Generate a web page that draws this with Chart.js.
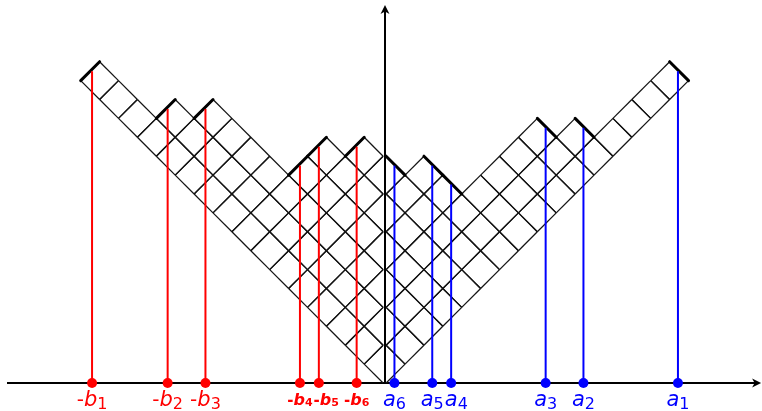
<!DOCTYPE html>
<html>
<head>
<meta charset="utf-8">
<script src="https://cdn.jsdelivr.net/npm/chart.js@4"></script>
<style>
  body { margin: 0; background: #fff; }
  #wrap { width: 762px; height: 411px; }
</style>
</head>
<body>
<div id="wrap"><canvas id="maya"></canvas></div>
<script>
// Frobenius coordinates (a1..a6 | b1..b6)
const aVals = [15, 10, 8, 3, 2, 0]
const bVals = [15, 11, 9, 4, 3, 1]
const aSubs = ['1', '2', '3', '4', '5', '6']
const bSubs = ['1', '2', '3', '4', '5', '6']
const bSmall = [false, false, false, true, true, true]

// axis extent in data units
const xAxisFrom = -20.0
const xAxisTo = 19.9
const yAxisTo = 20.0

const unit = 18.9
const gapLeft = 0.1
const gapRight = 0.06

// build the Russian-convention diagram from the Frobenius data
let segs = {}
let lattice = []
function addEdge (x1, y1, x2, y2) {
    let key = [x1, y1, x2, y2].join(',')
    if (segs[key]) return
    segs[key] = true
    lattice.push([{x: x1, y: y1}, {x: x2, y: y2}])
}
function cellEdges (i, j, half) {
    let cx = j - i, cy = i + j - 1
    let s = half === 'L' ? -gapLeft : gapRight
    let bot = [cx + s, cy - 1], rgt = [cx + 1 + s, cy], top = [cx + s, cy + 1], lft = [cx - 1 + s, cy]
    if (half === 'R') {
        addEdge(bot[0], bot[1], rgt[0], rgt[1])
        addEdge(rgt[0], rgt[1], top[0], top[1])
        if (j > i) {
            addEdge(top[0], top[1], lft[0], lft[1])
            addEdge(lft[0], lft[1], bot[0], bot[1])
        }
    } else {
        addEdge(top[0], top[1], lft[0], lft[1])
        addEdge(lft[0], lft[1], bot[0], bot[1])
        if (i > j) {
            addEdge(bot[0], bot[1], rgt[0], rgt[1])
            addEdge(rgt[0], rgt[1], top[0], top[1])
        }
    }
}
aVals.forEach(function (a, k) {
    let i = k + 1
    for (let j = i; j <= a + i; j++) cellEdges(i, j, 'R')
})
bVals.forEach(function (b, k) {
    let j = k + 1
    for (let i = j; i <= b + j; i++) cellEdges(i, j, 'L')
})

// thick boundary edges at the end of each hook
let thick = []
aVals.forEach(function (a, k) {
    let i = k + 1
    thick.push([{x: a + gapRight, y: a + 2 * i}, {x: a + 1 + gapRight, y: a + 2 * i - 1}])
})
bVals.forEach(function (b, k) {
    let j = k + 1
    thick.push([{x: -b - 1 - gapLeft, y: b + 2 * j - 1}, {x: -b - gapLeft, y: b + 2 * j}])
})

let datasets = []
// dots first (drawn on top)
datasets.push({
    data: bVals.map(b => ({x: -b - 0.5, y: 0})),
    showLine: false, pointRadius: 5, pointBackgroundColor: '#ff0000', pointBorderWidth: 0
})
datasets.push({
    data: aVals.map(a => ({x: a + 0.5, y: 0})),
    showLine: false, pointRadius: 5, pointBackgroundColor: '#0000ff', pointBorderWidth: 0
})
bVals.forEach(function (b, k) {
    let j = k + 1
    datasets.push({
        data: [{x: -b - 0.5, y: 0}, {x: -b - 0.5, y: b + 2 * j - 0.5}],
        showLine: true, pointRadius: 0, borderColor: '#ff0000', borderWidth: 2
    })
})
aVals.forEach(function (a, k) {
    let i = k + 1
    datasets.push({
        data: [{x: a + 0.5, y: 0}, {x: a + 0.5, y: a + 2 * i - 0.5}],
        showLine: true, pointRadius: 0, borderColor: '#0000ff', borderWidth: 2
    })
})
thick.forEach(function (s) {
    datasets.push({data: s, showLine: true, pointRadius: 0, borderColor: '#000', borderWidth: 3, borderCapStyle: 'round'})
})
lattice.forEach(function (s) {
    datasets.push({data: s, showLine: true, pointRadius: 0, borderColor: '#141414', borderWidth: 1.25})
})

// axes with arrows under the marks, labels on top
const axesPlugin = {
    id: 'axes',
    beforeDatasetsDraw (chart) {
        let ctx = chart.ctx, xs = chart.scales.x, ys = chart.scales.y
        let x0 = xs.getPixelForValue(0), y0 = ys.getPixelForValue(0)
        let xa = xs.getPixelForValue(xAxisFrom), xb = xs.getPixelForValue(xAxisTo)
        let yb = ys.getPixelForValue(yAxisTo)
        ctx.save()
        ctx.strokeStyle = '#000'
        ctx.fillStyle = '#000'
        ctx.lineWidth = 2
        ctx.beginPath()
        ctx.moveTo(xa, y0); ctx.lineTo(xb - 4, y0)
        ctx.moveTo(x0, y0); ctx.lineTo(x0, yb + 4)
        ctx.stroke()
        ctx.beginPath()
        ctx.moveTo(xb, y0); ctx.lineTo(xb - 9, y0 - 4.5); ctx.lineTo(xb - 6.5, y0); ctx.lineTo(xb - 9, y0 + 4.5)
        ctx.closePath(); ctx.fill()
        ctx.beginPath()
        ctx.moveTo(x0, yb); ctx.lineTo(x0 - 4.5, yb + 9); ctx.lineTo(x0, yb + 6.5); ctx.lineTo(x0 + 4.5, yb + 9)
        ctx.closePath(); ctx.fill()
        ctx.restore()
    },
    afterDatasetsDraw (chart) {
        let ctx = chart.ctx, xs = chart.scales.x, ys = chart.scales.y
        let base = ys.getPixelForValue(0) + 23
        let labels = []
        bVals.forEach(function (b, k) {
            let parts = bSmall[k] ? [
                {t: '-', font: 'bold 15px "DejaVu Sans"', dy: -1},
                {t: 'b', font: 'bold italic 16px "DejaVu Sans"', dy: -1},
                {t: bSubs[k], font: 'bold 11px "DejaVu Sans"', dy: 0}
            ] : [
                {t: '-', font: '20px "DejaVu Sans"', dy: 0},
                {t: 'b', font: 'italic 21px "DejaVu Sans"', dy: 0},
                {t: bSubs[k], font: '16px "DejaVu Sans"', dy: 3}
            ]
            labels.push({cx: xs.getPixelForValue(-b - 0.5), parts: parts, color: '#ff0000'})
        })
        aVals.forEach(function (a, k) {
            labels.push({cx: xs.getPixelForValue(a + 0.5), parts: [
                {t: 'a', font: 'italic 21px "DejaVu Sans"', dy: 0},
                {t: aSubs[k], font: '16px "DejaVu Sans"', dy: 3}
            ], color: '#0000ff'})
        })
        labels.forEach(function (l) {
            l.w = 0
            l.parts.forEach(function (p) { ctx.font = p.font; p.w = ctx.measureText(p.t).width; l.w += p.w })
        })
        labels.sort((p, q) => p.cx - q.cx)
        // keep neighbouring labels from overlapping
        let lastRight = -1e9
        labels.forEach(function (l) {
            let left = l.cx - l.w / 2
            if (left < lastRight + 1) left = lastRight + 1
            l.left = left
            lastRight = left + l.w
        })
        labels.forEach(function (l) {
            ctx.save()
            ctx.fillStyle = l.color
            ctx.textBaseline = 'alphabetic'
            let x = l.left
            l.parts.forEach(function (p) {
                ctx.font = p.font
                ctx.fillText(p.t, x, base + p.dy)
                x += p.w
            })
            ctx.restore()
        })
    }
}

new Chart(document.getElementById('maya'), {
    type: 'scatter',
    data: {datasets: datasets},
    options: {
        responsive: true,
        maintainAspectRatio: false,
        animation: false,
        events: [],
        layout: {padding: 0, autoPadding: false},
        plugins: {legend: {display: false}, tooltip: {enabled: false}},
        elements: {line: {tension: 0}},
        scales: {
            x: {type: 'linear', display: false, min: -385 / unit, max: 377 / unit},
            y: {type: 'linear', display: false, min: -28 / unit, max: 383 / unit}
        }
    },
    plugins: [axesPlugin]
})
</script>
</body>
</html>
